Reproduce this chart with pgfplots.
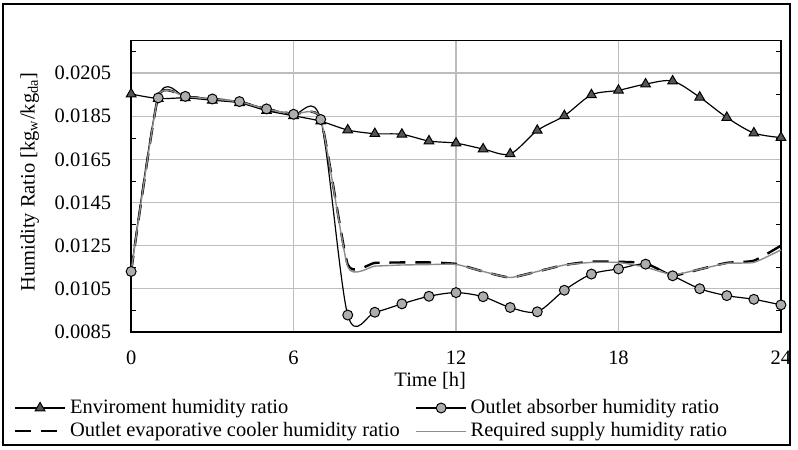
\documentclass[border=0pt]{standalone}
\usepackage{fontspec}
\setmainfont{Liberation Serif}
\usepackage{pgfplots}
\usepackage{pgfplotstable}
\pgfplotsset{compat=1.18}
\definecolor{gridgray}{HTML}{BDBDBD}
\definecolor{trifill}{HTML}{555555}
\definecolor{circfill}{HTML}{ADADAD}
\definecolor{reqgray}{HTML}{8C8C8C}

% hourly humidity ratios [kg_w/kg_da]
\pgfplotstableread{
t  env     abs     evap    req
0  0.01953 0.01130 0.01130 0.01130
1  0.01932 0.01935 0.01942 0.01942
2  0.01935 0.01942 0.01940 0.01940
3  0.01924 0.01930 0.01930 0.01930
4  0.01912 0.01918 0.01917 0.01917
5  0.01876 0.01884 0.01883 0.01883
6  0.01852 0.01859 0.01860 0.01860
7  0.01827 0.01835 0.01840 0.01840
8  0.01786 0.00928 0.01162 0.01152
9  0.01769 0.00941 0.01170 0.01155
10 0.01766 0.00980 0.01172 0.01160
11 0.01735 0.01015 0.01172 0.01162
12 0.01725 0.01032 0.01165 0.01163
13 0.01698 0.01013 0.01130 0.01130
14 0.01675 0.00963 0.01102 0.01102
15 0.01784 0.00943 0.01130 0.01130
16 0.01852 0.01043 0.01160 0.01160
17 0.01949 0.01118 0.01176 0.01172
18 0.01970 0.01142 0.01175 0.01172
19 0.01999 0.01164 0.01168 0.01150
20 0.02013 0.01110 0.01112 0.01115
21 0.01938 0.01050 0.01140 0.01140
22 0.01844 0.01018 0.01170 0.01168
23 0.01772 0.01001 0.01180 0.01172
24 0.01751 0.00975 0.01250 0.01230
}\humid

\begin{document}
\fontsize{10.3}{12.4}\selectfont
\begin{tikzpicture}
\begin{axis}[
    scale only axis, width=327pt, height=146.5pt,
    xmin=0, xmax=24, ymin=0.0085, ymax=0.022,
    xtick={0,6,12,18,24},
    ytick={0.0085,0.0105,0.0125,0.0145,0.0165,0.0185,0.0205},
    minor ytick={0.0095,0.0115,0.0135,0.0155,0.0175,0.0195,0.0215},
    scaled y ticks=false,
    yticklabel style={/pgf/number format/fixed, /pgf/number format/fixed zerofill,
        /pgf/number format/precision=4, /pgf/number format/assume math mode=true,
        xshift=-6.5pt},
    xticklabel style={/pgf/number format/assume math mode=true, yshift=-6pt},
    major tick length=0pt, minor tick length=2.5pt, tick align=inside,
    tick style={black},
    grid=major, major grid style={gridgray, line width=0.7pt},
    axis line style={black, line width=0.7pt},
    clip=false,
    xlabel={Time [h]},
    xlabel style={at={(axis description cs:0.5,0)}, anchor=center, yshift=-24.5pt, xshift=-13pt},
    ylabel={Humidity Ratio [kg\textsubscript{w}/kg\textsubscript{da}]},
    ylabel style={at={(axis description cs:-0.156,0.515)}, anchor=center},
    legend columns=2,
    legend cell align=left,
    legend style={at={(axis description cs:-0.19,-0.21)}, anchor=north west,
        draw=none, fill=none, nodes={inner sep=1pt}, column sep=1pt, row sep=1pt,
        /tikz/column 2/.style={column sep=7pt}},
    legend image code/.code={\draw[mark repeat=2,mark phase=2]
        plot coordinates {(0pt,0pt) (12.5pt,0pt) (25pt,0pt)};},
]
\addplot[black, line width=0.6pt, smooth, mark=triangle*, mark size=2.8pt,
    mark options={fill=trifill, draw=black, line width=0.5pt, solid}]
    table[x=t, y=env] {\humid};
\addlegendentry{Enviroment humidity ratio}
\addplot[black, line width=0.6pt, smooth, mark=*, mark size=2.5pt,
    mark options={fill=circfill, draw=black, line width=0.5pt, solid}]
    table[x=t, y=abs] {\humid};
\addlegendentry{Outlet absorber humidity ratio}
\addplot[black, line width=1.2pt, smooth, tension=0.3, dash pattern=on 8pt off 5pt, no markers]
    table[x=t, y=evap] {\humid};
\addlegendentry{Outlet evaporative cooler humidity ratio}
\addplot[reqgray, line width=0.7pt, smooth, tension=0.3, no markers]
    table[x=t, y=req] {\humid};
\addlegendentry{Required supply humidity ratio}
\end{axis}
\path ([shift={(-66pt,-59pt)}]current axis.south west) rectangle ([shift={(333pt,167pt)}]current axis.south west);
\draw[black, line width=0.8pt] ([shift={(-64.5pt,-57pt)}]current axis.south west) rectangle ([shift={(331.5pt,165pt)}]current axis.south west);
\end{tikzpicture}
\end{document}
